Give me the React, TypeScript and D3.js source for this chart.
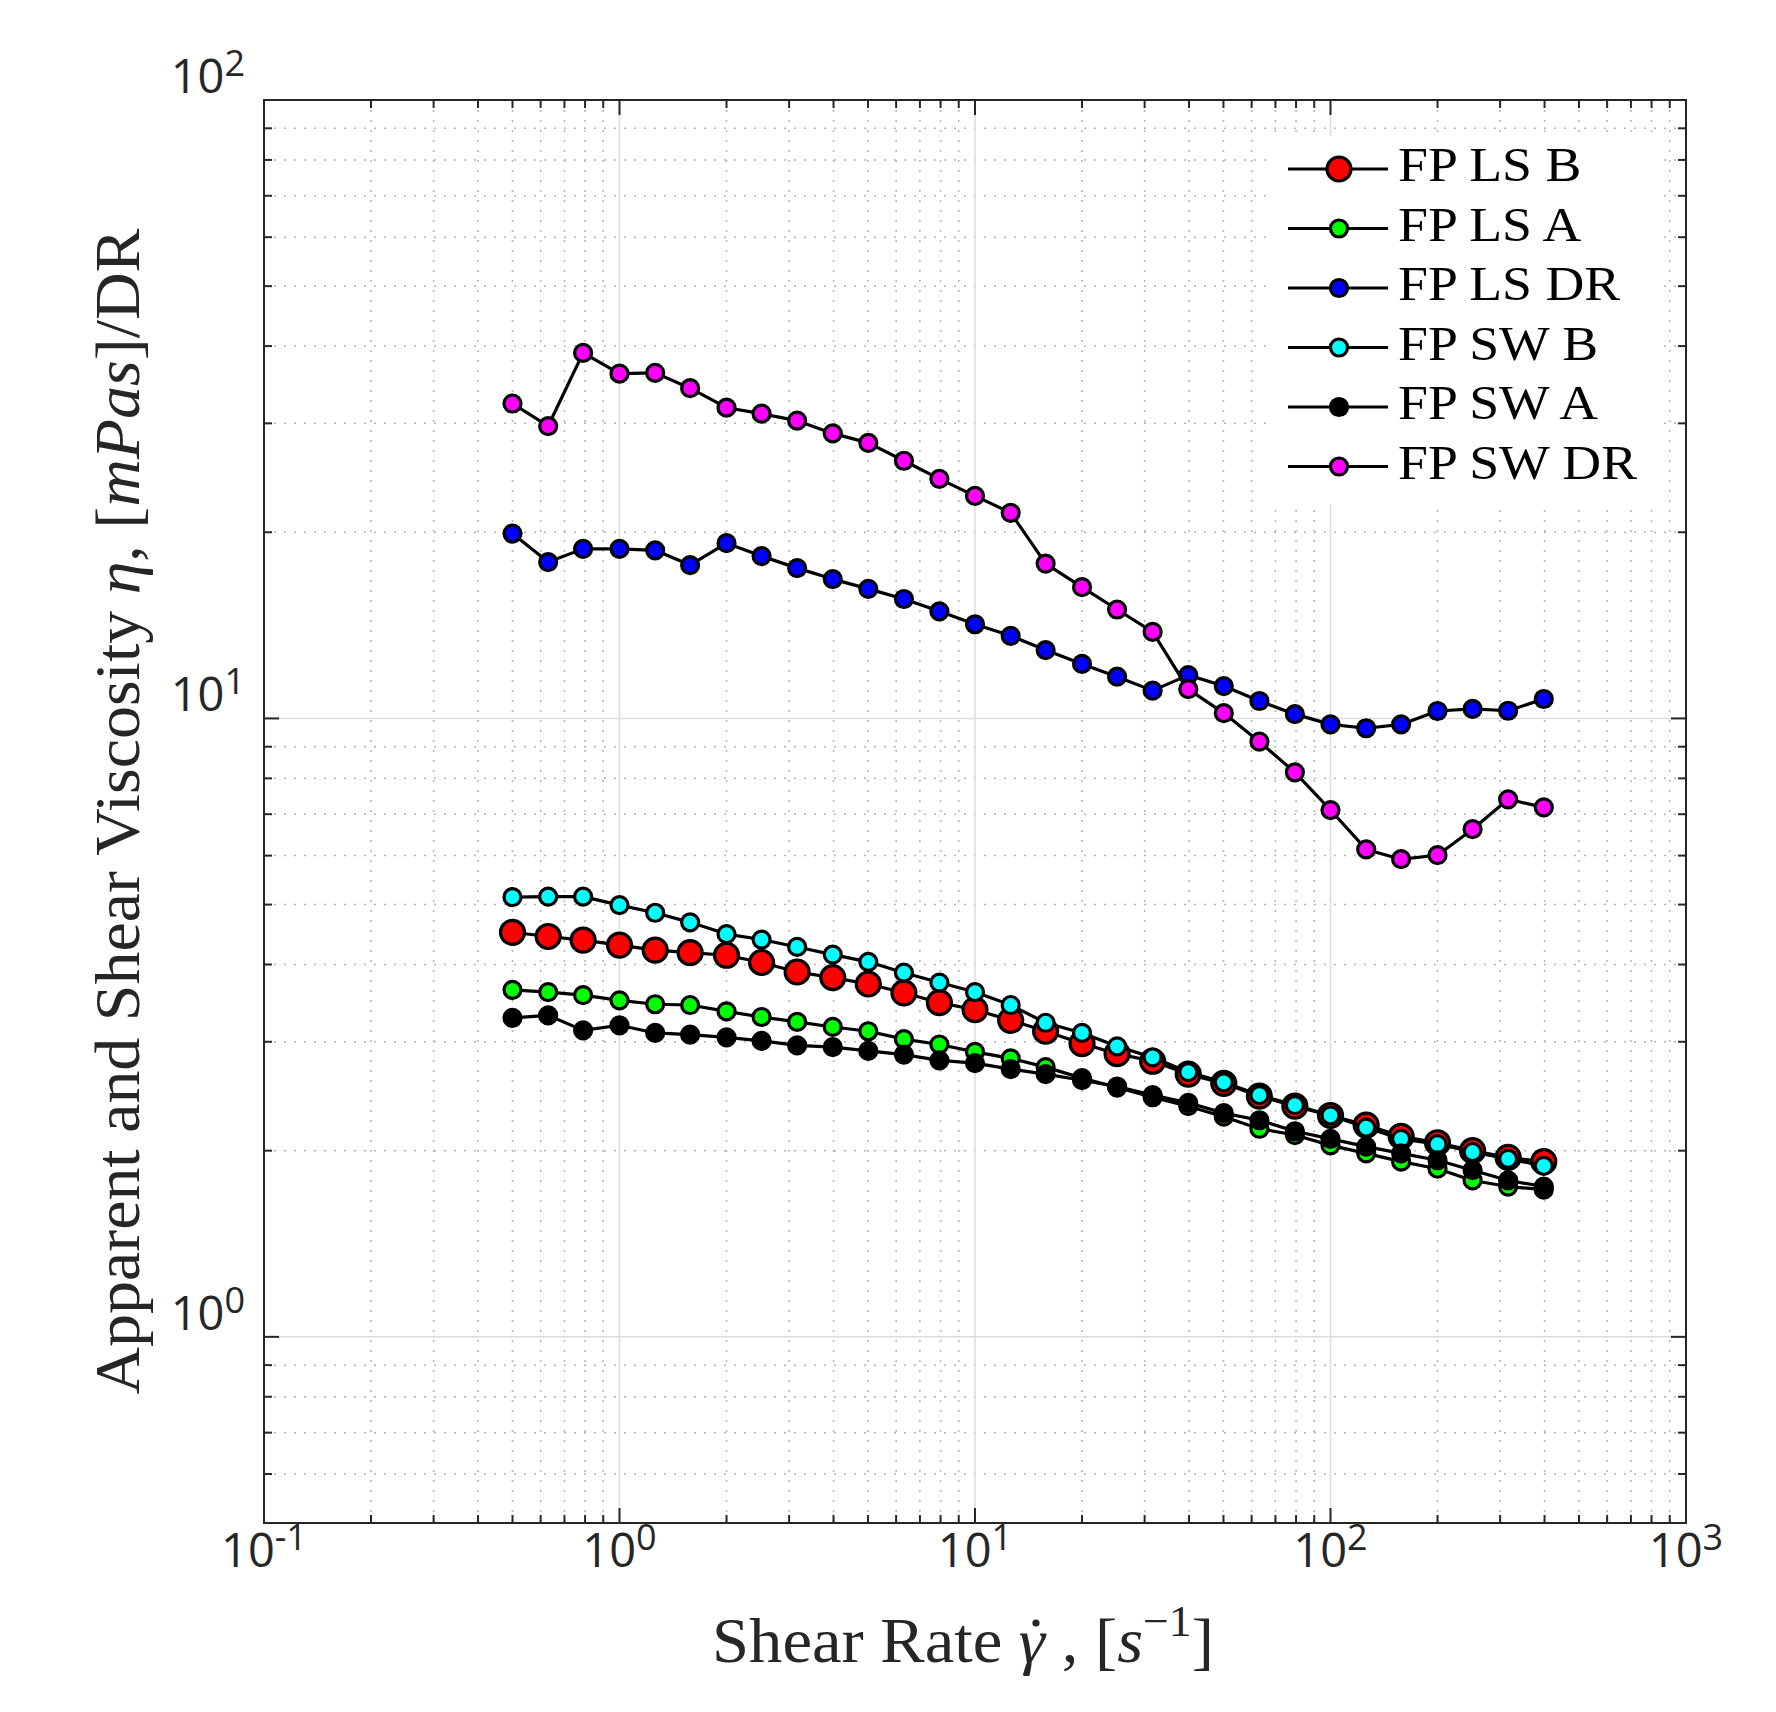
import React, { useLayoutEffect, useRef, useState } from 'react';
import * as d3 from 'd3';

// shear rate (1/s) — same grid for every sample
const shearRate = [0.5, 0.63, 0.79, 1, 1.26, 1.58, 2, 2.51, 3.16, 3.98, 5.01, 6.31, 7.94, 10, 12.6, 15.8, 20, 25.1, 31.6, 39.8, 50.1, 63.1, 79.4, 100, 126, 158, 200, 251, 316, 398];

const fpLsB = [4.51, 4.44, 4.38, 4.30, 4.22, 4.18, 4.14, 4.03, 3.89, 3.81, 3.72, 3.60, 3.47, 3.38, 3.25, 3.12, 2.98, 2.87, 2.79, 2.66, 2.57, 2.45, 2.36, 2.28, 2.20, 2.11, 2.06, 2.00, 1.95, 1.92];
const fpLsA = [3.64, 3.61, 3.57, 3.50, 3.45, 3.44, 3.36, 3.29, 3.23, 3.17, 3.12, 3.03, 2.97, 2.89, 2.82, 2.73, 2.62, 2.53, 2.44, 2.36, 2.27, 2.17, 2.12, 2.04, 1.98, 1.92, 1.87, 1.79, 1.75, 1.73];
const fpLsDR = [19.9, 17.9, 18.8, 18.8, 18.7, 17.7, 19.2, 18.3, 17.5, 16.8, 16.2, 15.6, 14.9, 14.2, 13.6, 12.9, 12.25, 11.68, 11.09, 11.75, 11.28, 10.67, 10.16, 9.78, 9.64, 9.78, 10.28, 10.36, 10.29, 10.75];
const fpSwB = [5.14, 5.15, 5.15, 4.99, 4.85, 4.68, 4.48, 4.39, 4.27, 4.15, 4.04, 3.88, 3.74, 3.61, 3.44, 3.22, 3.10, 2.95, 2.83, 2.68, 2.58, 2.46, 2.37, 2.28, 2.18, 2.09, 2.05, 1.99, 1.94, 1.89];
const fpSwA = [3.28, 3.31, 3.13, 3.19, 3.10, 3.08, 3.05, 3.01, 2.96, 2.94, 2.90, 2.86, 2.80, 2.77, 2.71, 2.66, 2.60, 2.54, 2.46, 2.39, 2.30, 2.24, 2.15, 2.09, 2.03, 1.98, 1.93, 1.86, 1.79, 1.75];
const fpSwDR = [32.3, 29.7, 39.0, 36.1, 36.2, 34.2, 31.8, 31.1, 30.3, 28.9, 27.9, 26.1, 24.4, 22.9, 21.5, 17.8, 16.3, 15.0, 13.8, 11.15, 10.2, 9.17, 8.18, 7.11, 6.14, 5.92, 6.01, 6.62, 7.40, 7.18];

const seriesNames = ['FP LS B', 'FP LS A', 'FP LS DR', 'FP SW B', 'FP SW A', 'FP SW DR'];

const xTickExps = [-1, 0, 1, 2, 3];
const yTickExps = [0, 1, 2];

const W = 1776;
const H = 1712;
const margin = { left: 264, right: 90, top: 100, bottom: 189 };

const series = [
  { name: seriesNames[0], values: fpLsB, color: '#ff0000', r: 12 },
  { name: seriesNames[1], values: fpLsA, color: '#00ff00', r: 8.5 },
  { name: seriesNames[2], values: fpLsDR, color: '#0000ff', r: 8.5 },
  { name: seriesNames[3], values: fpSwB, color: '#00ffff', r: 8.5 },
  { name: seriesNames[4], values: fpSwA, color: '#000000', r: 8.5 },
  { name: seriesNames[5], values: fpSwDR, color: '#ff00ff', r: 8.5 },
];

const axisColor = '#262626';
const serif = '"Liberation Serif", "Times New Roman", serif';
const sans = '"Open Sans", "Noto Sans", sans-serif';

// minor tick values for a log axis between lo and hi
const minorTicks = (lo: number, hi: number) => {
  const out: number[] = [];
  for (let e = Math.floor(Math.log10(lo)); e < Math.ceil(Math.log10(hi)); e++) {
    for (let m = 2; m <= 9; m++) {
      const v = m * Math.pow(10, e);
      if (v >= lo && v <= hi) out.push(v);
    }
  }
  return out;
};

const App: React.FC = () => {
  const svgRef = useRef<SVGSVGElement | null>(null);
  const gammaRef = useRef<SVGTSpanElement | null>(null);
  const [dotX, setDotX] = useState<number | null>(null);

  const x = d3.scaleLog().domain([0.1, 1000]).range([margin.left, W - margin.right]);
  const y = d3.scaleLog().domain([0.5, 100]).range([H - margin.bottom, margin.top]);

  const [x0, x1] = x.range();
  const [y0, y1] = y.range(); // y0 bottom, y1 top

  const xLabelY = 1662;

  // the gamma-dot: place a small dot above the italic gamma
  useLayoutEffect(() => {
    if (!gammaRef.current || !svgRef.current) return;
    const b = gammaRef.current.getBoundingClientRect();
    const s = svgRef.current.getBoundingClientRect();
    setDotX(b.left - s.left + b.width * 0.6);
  }, []);

  const xMinor = minorTicks(0.1, 1000);
  const yMinor = minorTicks(0.5, 100).concat([0.5]);
  const xMajor = xTickExps.map(e => Math.pow(10, e));
  const yMajor = yTickExps.map(e => Math.pow(10, e));

  const line = d3.line<number>()
    .x((_, i) => x(shearRate[i]))
    .y(d => y(d));

  const majorLen = 15;
  const minorLen = 8;

  // legend layout
  const legX = 1266;
  const legY = 136;
  const legW = 390;
  const legH = 368;
  const rowY = (i: number) => 169 + i * 59.5;

  return (
    <svg ref={svgRef} width={W} height={H} style={{ position: 'absolute', left: 0, top: 0, background: '#fff' }}>
      <rect x={0} y={0} width={W} height={H} fill="#fff" />

      {/* minor grid */}
      <g stroke="#b4b4b4" strokeWidth={1.5} strokeDasharray="2 8">
        {xMinor.map(v => (
          <line key={`xm${v}`} x1={x(v)} x2={x(v)} y1={y1} y2={y0} />
        ))}
        {yMinor.map(v => (
          <line key={`ym${v}`} x1={x0} x2={x1} y1={y(v)} y2={y(v)} />
        ))}
      </g>
      {/* major grid */}
      <g stroke="#dcdcdc" strokeWidth={1.5}>
        {xMajor.map(v => (
          <line key={`xg${v}`} x1={x(v)} x2={x(v)} y1={y1} y2={y0} />
        ))}
        {yMajor.map(v => (
          <line key={`yg${v}`} x1={x0} x2={x1} y1={y(v)} y2={y(v)} />
        ))}
      </g>

      {/* ticks on all four sides, pointing inwards */}
      <g stroke={axisColor} strokeWidth={2}>
        {xMinor.map(v => (
          <g key={`xt${v}`}>
            <line x1={x(v)} x2={x(v)} y1={y0} y2={y0 - minorLen} />
            <line x1={x(v)} x2={x(v)} y1={y1} y2={y1 + minorLen} />
          </g>
        ))}
        {xMajor.map(v => (
          <g key={`xT${v}`}>
            <line x1={x(v)} x2={x(v)} y1={y0} y2={y0 - majorLen} />
            <line x1={x(v)} x2={x(v)} y1={y1} y2={y1 + majorLen} />
          </g>
        ))}
        {yMinor.map(v => (
          <g key={`yt${v}`}>
            <line x1={x0} x2={x0 + minorLen} y1={y(v)} y2={y(v)} />
            <line x1={x1} x2={x1 - minorLen} y1={y(v)} y2={y(v)} />
          </g>
        ))}
        {yMajor.map(v => (
          <g key={`yT${v}`}>
            <line x1={x0} x2={x0 + majorLen} y1={y(v)} y2={y(v)} />
            <line x1={x1} x2={x1 - majorLen} y1={y(v)} y2={y(v)} />
          </g>
        ))}
      </g>

      {/* data */}
      {series.map(s => (
        <g key={s.name}>
          <path d={line(s.values) || ''} fill="none" stroke="#000" strokeWidth={3.2} strokeLinejoin="round" />
          {s.values.map((v, i) => (
            <circle key={i} cx={x(shearRate[i])} cy={y(v)} r={s.r} fill={s.color} stroke="#000" strokeWidth={3.2} />
          ))}
        </g>
      ))}

      {/* axes box */}
      <rect x={x0} y={y1} width={x1 - x0} height={y0 - y1} fill="none" stroke={axisColor} strokeWidth={2} />

      {/* tick labels */}
      <g fill={axisColor} fontFamily={sans}>
        {xTickExps.map(e => (
          <text key={`xl${e}`} x={x(Math.pow(10, e))} y={y0 + 44} textAnchor="middle" fontSize={47}>
            10<tspan fontSize={36} dy={-17}>{e}</tspan>
          </text>
        ))}
        {yTickExps.map(e => (
          <text key={`yl${e}`} x={245} y={y(Math.pow(10, e)) - 7} textAnchor="end" fontSize={47}>
            10<tspan fontSize={36} dy={-17}>{e}</tspan>
          </text>
        ))}
      </g>

      {/* axis titles */}
      <text
        transform={`translate(${(x0 + x1) / 2 - 12}, ${xLabelY}) scale(1.04,1)`}
        textAnchor="middle"
        fontFamily={serif}
        fontSize={64}
        fill={axisColor}
      >
        Shear Rate <tspan ref={gammaRef} fontStyle="italic">{'\u03B3'}</tspan>
        <tspan>{' , ['}</tspan>
        <tspan fontStyle="italic">s</tspan>
        <tspan fontSize={44} dy={-26}>{'\u22121'}</tspan>
        <tspan dy={26}>]</tspan>
      </text>
      {dotX !== null && <circle cx={dotX} cy={xLabelY - 39} r={3.6} fill={axisColor} />}
      <text
        transform={`translate(139, ${(y0 + y1) / 2}) rotate(-90) scale(1.03,1)`}
        textAnchor="middle"
        fontFamily={serif}
        fontSize={64}
        fill={axisColor}
      >
        Apparent and Shear Viscosity <tspan fontStyle="italic">{'\u03B7'}</tspan>, [<tspan fontStyle="italic">mPas</tspan>]/DR
      </text>

      {/* legend */}
      <rect x={legX} y={legY} width={legW} height={legH} fill="#fff" />
      {series.map((s, i) => (
        <g key={`lg${s.name}`}>
          <line x1={1288} x2={1388} y1={rowY(i)} y2={rowY(i)} stroke="#000" strokeWidth={3.2} />
          <circle cx={1339} cy={rowY(i)} r={s.r} fill={s.color} stroke="#000" strokeWidth={3.2} />
          <text
            transform={`translate(1398, ${rowY(i) + 12}) scale(1.12,1)`}
            fontFamily={serif}
            fontSize={48}
            fill="#000"
          >
            {s.name}
          </text>
        </g>
      ))}
    </svg>
  );
};

export default App;
